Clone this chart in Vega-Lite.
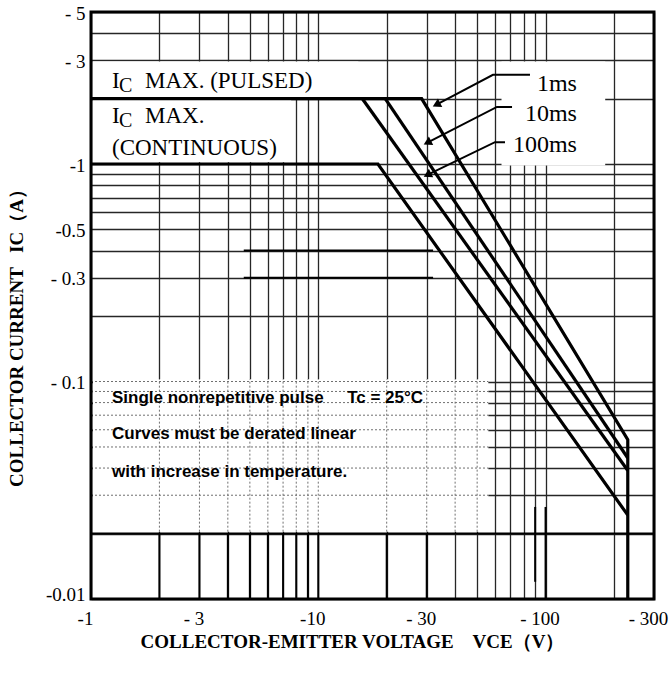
{
  "$schema": "https://vega.github.io/schema/vega-lite/v6.json",
  "width": 563,
  "height": 587,
  "autosize": {"type": "none"},
  "padding": {"left": 91, "top": 12, "right": 18, "bottom": 80},
  "background": "white",
  "config": {"view": {"stroke": null}},
  "datasets": {
    "boxes": [
      {"x": 1.02, "x2": 15, "y": 2.03, "y2": 2.96},
      {"x": 1.02, "x2": 7.6, "y": 1.02, "y2": 1.97},
      {"x": 64, "x2": 183, "y": 0.985, "y2": 2.96},
      {"x": 1.02, "x2": 56, "y": 0.0204, "y2": 0.1025}
    ],
    "dotted": [
      {"x": 2, "x2": 2, "y": 0.0204, "y2": 0.1025},
      {"x": 3, "x2": 3, "y": 0.0204, "y2": 0.1025},
      {"x": 4, "x2": 4, "y": 0.0204, "y2": 0.1025},
      {"x": 5, "x2": 5, "y": 0.0204, "y2": 0.1025},
      {"x": 6, "x2": 6, "y": 0.0204, "y2": 0.1025},
      {"x": 7, "x2": 7, "y": 0.0204, "y2": 0.1025},
      {"x": 8, "x2": 8, "y": 0.0204, "y2": 0.1025},
      {"x": 9, "x2": 9, "y": 0.0204, "y2": 0.1025},
      {"x": 10, "x2": 10, "y": 0.0204, "y2": 0.1025},
      {"x": 20, "x2": 20, "y": 0.0204, "y2": 0.1025},
      {"x": 30, "x2": 30, "y": 0.0204, "y2": 0.1025},
      {"x": 40, "x2": 40, "y": 0.0204, "y2": 0.1025},
      {"x": 50, "x2": 50, "y": 0.0204, "y2": 0.1025},
      {"x": 1, "x2": 56, "y": 0.03, "y2": 0.03},
      {"x": 1, "x2": 56, "y": 0.04, "y2": 0.04},
      {"x": 1, "x2": 56, "y": 0.05, "y2": 0.05},
      {"x": 1, "x2": 56, "y": 0.06, "y2": 0.06},
      {"x": 1, "x2": 56, "y": 0.07, "y2": 0.07},
      {"x": 1, "x2": 56, "y": 0.08, "y2": 0.08},
      {"x": 1, "x2": 56, "y": 0.09, "y2": 0.09},
      {"x": 1, "x2": 56, "y": 0.1, "y2": 0.1}
    ],
    "dark": [
      {"x": 4.7, "x2": 32, "y": 0.4, "y2": 0.4},
      {"x": 4.7, "x2": 32, "y": 0.3, "y2": 0.3},
      {"x": 90, "x2": 90, "y": 0.012, "y2": 0.0265},
      {"x": 100, "x2": 100, "y": 0.01, "y2": 0.0265},
      {"x": 1, "x2": 300, "y": 0.02, "y2": 0.02},
      {"x": 2, "x2": 2, "y": 0.01, "y2": 0.02},
      {"x": 3, "x2": 3, "y": 0.01, "y2": 0.02},
      {"x": 4, "x2": 4, "y": 0.01, "y2": 0.02},
      {"x": 5, "x2": 5, "y": 0.01, "y2": 0.02},
      {"x": 6, "x2": 6, "y": 0.01, "y2": 0.02},
      {"x": 7, "x2": 7, "y": 0.01, "y2": 0.02},
      {"x": 8, "x2": 8, "y": 0.01, "y2": 0.02},
      {"x": 9, "x2": 9, "y": 0.01, "y2": 0.02},
      {"x": 10, "x2": 10, "y": 0.01, "y2": 0.02},
      {"x": 20, "x2": 20, "y": 0.01, "y2": 0.02},
      {"x": 30, "x2": 30, "y": 0.01, "y2": 0.02}
    ],
    "soa": [
      {"s": "1ms", "o": 1, "x": 1, "y": 2},
      {"s": "1ms", "o": 2, "x": 28.5, "y": 2},
      {"s": "1ms", "o": 3, "x": 230, "y": 0.054},
      {"s": "1ms", "o": 4, "x": 230, "y": 0.01},
      {"s": "10ms", "o": 1, "x": 19.7, "y": 2},
      {"s": "10ms", "o": 2, "x": 230, "y": 0.0445},
      {"s": "100ms", "o": 1, "x": 15.6, "y": 2},
      {"s": "100ms", "o": 2, "x": 230, "y": 0.039},
      {"s": "DC", "o": 1, "x": 1, "y": 1},
      {"s": "DC", "o": 2, "x": 18.3, "y": 1},
      {"s": "DC", "o": 3, "x": 230, "y": 0.0243}
    ],
    "leaders": [
      {"s": "a", "o": 1, "x": 85.4, "y": 2.57},
      {"s": "a", "o": 2, "x": 58.7, "y": 2.57},
      {"s": "a", "o": 3, "x": 33.1, "y": 1.875},
      {"s": "b", "o": 1, "x": 71.2, "y": 1.83},
      {"s": "b", "o": 2, "x": 61.1, "y": 1.83},
      {"s": "b", "o": 3, "x": 30.2, "y": 1.253},
      {"s": "c", "o": 1, "x": 66.3, "y": 1.26},
      {"s": "c", "o": 2, "x": 59.9, "y": 1.26},
      {"s": "c", "o": 3, "x": 30.2, "y": 0.892}
    ],
    "heads": [
      {"x": 33.1, "y": 1.875},
      {"x": 30.2, "y": 1.253},
      {"x": 30.2, "y": 0.892}
    ],
    "ic": [
      {"x": 1.237, "y": 2.236, "t": "MAX. (PULSED)"},
      {"x": 1.237, "y": 1.544, "t": "MAX."}
    ],
    "cont": [
      {"x": 1.237, "y": 1.1, "t": "(CONTINUOUS)"}
    ],
    "ms": [
      {"x": 137.4, "y": 2.17, "t": "1ms"},
      {"x": 137.4, "y": 1.58, "t": "10ms"},
      {"x": 137.4, "y": 1.136, "t": "100ms"}
    ],
    "notes": [
      {"x": 1.237, "y": 0.0797, "t": "Single nonrepetitive pulse"},
      {"x": 13.4, "y": 0.0797, "t": "Tc = 25°C"},
      {"x": 1.237, "y": 0.0544, "t": "Curves must be derated linear"},
      {"x": 1.237, "y": 0.0364, "t": "with increase in temperature."}
    ],
    "frame": [
      {"x": 1, "x2": 300, "y": 0.01, "y2": 5}
    ]
  },
  "encoding": {
    "x": {
      "field": "x",
      "type": "quantitative",
      "scale": {"type": "log", "domain": [1, 300], "nice": false},
      "axis": {
        "values": [1, 2, 3, 4, 5, 6, 7, 8, 9, 10, 20, 30, 40, 50, 60, 70, 80, 90, 100, 200, 300],
        "labelExpr": "datum.value == 1 ? '-1' : datum.value == 3 ? '- 3' : datum.value == 10 ? '-10' : datum.value == 30 ? '- 30' : datum.value == 100 ? '- 100' : datum.value == 300 ? '- 300' : ''",
        "grid": true,
        "gridColor": "#262626",
        "gridWidth": 1.3,
        "ticks": false,
        "domain": false,
        "labelFont": "Liberation Serif",
        "labelFontSize": 19,
        "labelColor": "#000",
        "labelPadding": 10,
        "labelOffset": -6,
        "labelOverlap": false,
        "labelBound": false,
        "labelFlush": false,
        "title": "COLLECTOR-EMITTER VOLTAGE\u00a0\u00a0\u00a0\u00a0VCE（V）",
        "titleFont": "Liberation Serif",
        "titleFontSize": 19,
        "titleFontWeight": "bold",
        "titleColor": "#000",
        "titleX": 261,
        "titleY": 48,
        "titleBaseline": "alphabetic",
        "titleAlign": "center"
      }
    },
    "y": {
      "field": "y",
      "type": "quantitative",
      "scale": {"type": "log", "domain": [0.01, 5], "nice": false},
      "axis": {
        "values": [0.01, 0.02, 0.03, 0.04, 0.05, 0.06, 0.07, 0.08, 0.09, 0.1, 0.2, 0.3, 0.4, 0.5, 0.6, 0.7, 0.8, 0.9, 1, 2, 3, 4, 5],
        "labelExpr": "datum.value == 5 ? '- 5' : datum.value == 3 ? '- 3' : datum.value == 1 ? '-1' : datum.value == 0.5 ? '-0.5' : datum.value == 0.3 ? '- 0.3' : datum.value == 0.1 ? '- 0.1' : datum.value == 0.01 ? '-0.01' : ''",
        "grid": true,
        "gridColor": "#262626",
        "gridWidth": 1.3,
        "ticks": false,
        "domain": false,
        "labelFont": "Liberation Serif",
        "labelFontSize": 19,
        "labelColor": "#000",
        "labelPadding": 6,
        "labelOffset": {"condition": {"test": "datum.value == 0.01", "value": -5}, "value": 1},
        "labelOverlap": false,
        "labelBound": false,
        "labelFlush": false,
        "title": "COLLECTOR CURRENT\u00a0\u00a0\u00a0IC（A）",
        "titleFont": "Liberation Serif",
        "titleFontSize": 19,
        "titleFontWeight": "bold",
        "titleColor": "#000",
        "titleAngle": 270,
        "titleX": -69,
        "titleY": 321,
        "titleBaseline": "alphabetic",
        "titleAlign": "center"
      }
    }
  },
  "layer": [
    {
      "data": {"name": "boxes"},
      "mark": {"type": "rect", "fill": "white", "strokeWidth": 0},
      "encoding": {"x2": {"field": "x2"}, "y2": {"field": "y2"}}
    },
    {
      "data": {"name": "dotted"},
      "mark": {"type": "rule", "color": "#707070", "strokeWidth": 1, "strokeDash": [2, 2]},
      "encoding": {"x2": {"field": "x2"}, "y2": {"field": "y2"}}
    },
    {
      "data": {"name": "dark"},
      "mark": {"type": "rule", "color": "#000", "strokeWidth": 2},
      "encoding": {"x2": {"field": "x2"}, "y2": {"field": "y2"}}
    },
    {
      "data": {"name": "soa"},
      "mark": {"type": "line", "color": "#000", "strokeWidth": 3.2, "strokeJoin": "miter"},
      "encoding": {"detail": {"field": "s"}, "order": {"field": "o", "type": "quantitative"}}
    },
    {
      "data": {"name": "leaders"},
      "mark": {"type": "line", "color": "#000", "strokeWidth": 2},
      "encoding": {"detail": {"field": "s"}, "order": {"field": "o", "type": "quantitative"}}
    },
    {
      "data": {"name": "heads"},
      "mark": {"type": "point", "shape": "triangle-up", "filled": true, "size": 90, "angle": 243, "color": "#000", "opacity": 1}
    },
    {
      "data": {"name": "ic"},
      "mark": {"type": "text", "font": "Liberation Serif", "fontSize": 23, "align": "left", "baseline": "alphabetic", "color": "#000"},
      "encoding": {"text": {"value": "I"}}
    },
    {
      "data": {"name": "ic"},
      "mark": {"type": "text", "font": "Liberation Serif", "fontSize": 20, "align": "left", "baseline": "alphabetic", "color": "#000", "dx": 7, "dy": 4},
      "encoding": {"text": {"value": "C"}}
    },
    {
      "data": {"name": "ic"},
      "mark": {"type": "text", "font": "Liberation Serif", "fontSize": 23, "align": "left", "baseline": "alphabetic", "color": "#000", "dx": 33},
      "encoding": {"text": {"field": "t"}}
    },
    {
      "data": {"name": "cont"},
      "mark": {"type": "text", "font": "Liberation Serif", "fontSize": 23, "align": "left", "baseline": "alphabetic", "color": "#000"},
      "encoding": {"text": {"field": "t"}}
    },
    {
      "data": {"name": "ms"},
      "mark": {"type": "text", "font": "Liberation Serif", "fontSize": 24, "align": "right", "baseline": "alphabetic", "color": "#000"},
      "encoding": {"text": {"field": "t"}}
    },
    {
      "data": {"name": "notes"},
      "mark": {"type": "text", "font": "Liberation Sans", "fontSize": 17, "fontWeight": "bold", "align": "left", "baseline": "alphabetic", "color": "#000"},
      "encoding": {"text": {"field": "t"}}
    },
    {
      "data": {"name": "frame"},
      "mark": {"type": "rect", "filled": false, "stroke": "#000", "strokeWidth": 3},
      "encoding": {"x2": {"field": "x2"}, "y2": {"field": "y2"}}
    }
  ]
}
